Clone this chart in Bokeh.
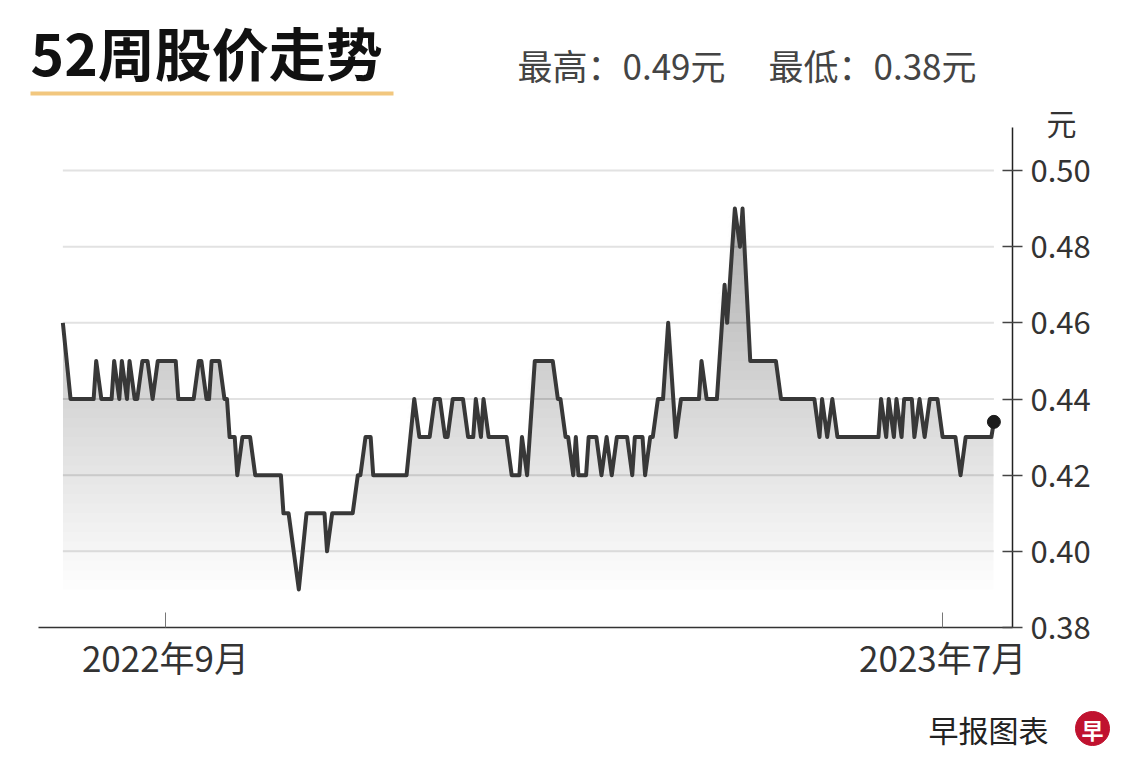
from datetime import datetime
import numpy as np
import pandas as pd
from bokeh.plotting import figure
from bokeh.layouts import column
from bokeh.models import Range1d, FixedTicker, NumeralTickFormatter, Title
from bokeh.core.properties import value
from bokeh.embed import file_html
from bokeh.resources import INLINE

# ---------------- data ----------------
dates = [
    "2022-07-23", "2022-07-26", "2022-08-04", "2022-08-05", "2022-08-07", "2022-08-11",
    "2022-08-12", "2022-08-14", "2022-08-15", "2022-08-17", "2022-08-18", "2022-08-20",
    "2022-08-21", "2022-08-23", "2022-08-25", "2022-08-27", "2022-08-29", "2022-09-05",
    "2022-09-06", "2022-09-12", "2022-09-14", "2022-09-15", "2022-09-17", "2022-09-18",
    "2022-09-19", "2022-09-22", "2022-09-24", "2022-09-25", "2022-09-26", "2022-09-28",
    "2022-09-29", "2022-10-01", "2022-10-04", "2022-10-06", "2022-10-16", "2022-10-17",
    "2022-10-19", "2022-10-23", "2022-10-26", "2022-11-02", "2022-11-03", "2022-11-05",
    "2022-11-13", "2022-11-15", "2022-11-16", "2022-11-18", "2022-11-20", "2022-11-21",
    "2022-12-04", "2022-12-07", "2022-12-09", "2022-12-13", "2022-12-15", "2022-12-17",
    "2022-12-19", "2022-12-20", "2022-12-22", "2022-12-26", "2022-12-28", "2022-12-30",
    "2022-12-31", "2023-01-02", "2023-01-03", "2023-01-05", "2023-01-12", "2023-01-14",
    "2023-01-17", "2023-01-18", "2023-01-20", "2023-01-23", "2023-01-30", "2023-02-01",
    "2023-02-02", "2023-02-04", "2023-02-05", "2023-02-07", "2023-02-08", "2023-02-09",
    "2023-02-12", "2023-02-13", "2023-02-16", "2023-02-18", "2023-02-20", "2023-02-22",
    "2023-02-24", "2023-02-28", "2023-03-02", "2023-03-03", "2023-03-06", "2023-03-07",
    "2023-03-09", "2023-03-10", "2023-03-12", "2023-03-14", "2023-03-16", "2023-03-19",
    "2023-03-21", "2023-03-28", "2023-03-29", "2023-03-31", "2023-04-04", "2023-04-07",
    "2023-04-08", "2023-04-11", "2023-04-13", "2023-04-14", "2023-04-17", "2023-04-27",
    "2023-04-29", "2023-05-12", "2023-05-14", "2023-05-15", "2023-05-17", "2023-05-19",
    "2023-05-21", "2023-06-06", "2023-06-07", "2023-06-09", "2023-06-10", "2023-06-12",
    "2023-06-13", "2023-06-15", "2023-06-16", "2023-06-19", "2023-06-20", "2023-06-22",
    "2023-06-24", "2023-06-26", "2023-06-29", "2023-07-01", "2023-07-06", "2023-07-08",
    "2023-07-10", "2023-07-20", "2023-07-21",
]
prices = [
    0.46, 0.44, 0.44, 0.45, 0.44, 0.44,
    0.45, 0.44, 0.45, 0.44, 0.45, 0.44,
    0.44, 0.45, 0.45, 0.44, 0.45, 0.45,
    0.44, 0.44, 0.45, 0.45, 0.44, 0.44,
    0.45, 0.45, 0.44, 0.44, 0.43, 0.43,
    0.42, 0.43, 0.43, 0.42, 0.42, 0.41,
    0.41, 0.39, 0.41, 0.41, 0.40, 0.41,
    0.41, 0.42, 0.42, 0.43, 0.43, 0.42,
    0.42, 0.44, 0.43, 0.43, 0.44, 0.44,
    0.43, 0.43, 0.44, 0.44, 0.43, 0.43,
    0.44, 0.43, 0.44, 0.43, 0.43, 0.42,
    0.42, 0.43, 0.42, 0.45, 0.45, 0.44,
    0.44, 0.43, 0.43, 0.42, 0.43, 0.42,
    0.42, 0.43, 0.43, 0.42, 0.43, 0.42,
    0.43, 0.43, 0.42, 0.43, 0.43, 0.42,
    0.43, 0.43, 0.44, 0.44, 0.46, 0.43,
    0.44, 0.44, 0.45, 0.44, 0.44, 0.47,
    0.46, 0.49, 0.48, 0.49, 0.45, 0.45,
    0.44, 0.44, 0.43, 0.44, 0.43, 0.44,
    0.43, 0.43, 0.44, 0.43, 0.44, 0.43,
    0.44, 0.43, 0.44, 0.44, 0.43, 0.44,
    0.43, 0.44, 0.44, 0.43, 0.43, 0.42,
    0.43, 0.43, 0.434,
]
title_text = "52周股价走势"
high_52w = 0.49
low_52w = 0.38
y_ticks = [0.38, 0.40, 0.42, 0.44, 0.46, 0.48, 0.50]
x_tick_dates = ["2022-09-01", "2023-07-01"]
x_tick_labels = ["2022年9月", "2023年7月"]
unit_text = "元"
source_text = "早报图表"
logo_text = "早"

CJK = "Noto Sans CJK SC"
W = 1140


def blank_fig(h):
    f = figure(width=W, height=h, x_range=Range1d(0, W), y_range=Range1d(h, 0),
               x_axis_location=None, y_axis_location=None,
               output_backend="svg", toolbar_location=None,
               min_border=0, min_border_left=0, min_border_right=0,
               min_border_top=0, min_border_bottom=0)
    f.frame_align = False
    f.outline_line_color = None
    f.xgrid.visible = False
    f.ygrid.visible = False
    f.background_fill_color = "white"
    f.border_fill_color = "white"
    return f


# ---------------- header ----------------
HEAD_H = 97
head = blank_fig(HEAD_H)
head.text(x=[30], y=[50], text=[title_text], text_font=value(CJK),
          text_font_size="57px", text_font_style="bold", text_baseline="middle",
          text_color="#111111")
head.segment(x0=[30], y0=[93], x1=[393], y1=[93], line_color="#F2C77E",
             line_width=4, line_cap="butt")
head.text(x=[517, 768],
          y=[64, 64],
          text=[f"最高：{high_52w:.2f}{unit_text}", f"最低：{low_52w:.2f}{unit_text}"],
          text_font=value(CJK), text_font_size="35px", text_baseline="middle",
          text_color="#444444")

# ---------------- main chart ----------------
xs = pd.to_datetime(dates)
pr = np.array(prices)

TOP = 127 - HEAD_H
p = figure(
    width=W, height=500 + TOP + 73,
    x_axis_type="datetime", y_axis_location="right",
    x_range=Range1d(datetime(2022, 7, 13, 12), datetime(2023, 7, 28, 6)),
    y_range=Range1d(0.38, 0.5113),
    output_backend="svg", toolbar_location=None,
    min_border_left=38, min_border_right=128,
    min_border_top=TOP, min_border_bottom=73,
)
p.outline_line_color = None
p.xgrid.visible = False
p.ygrid.visible = False
p.background_fill_color = "white"
p.border_fill_color = "white"

# unit label above the right axis
p.add_layout(Title(text=unit_text, align="right", offset=-64, standoff=-32,
                   vertical_align="bottom", text_font=CJK, text_font_size="30px",
                   text_font_style="normal", text_color="#333333"), "above")

n_grid = len(y_ticks) - 1
p.segment(x0=[xs[0]] * n_grid, x1=[xs[-1]] * n_grid,
          y0=y_ticks[1:], y1=y_ticks[1:], line_color="#e2e2e2", line_width=2)

# vertical gradient fill (stacked translucent layers)
for lv in np.arange(0.39, 0.50, 0.0025):
    p.varea(x=xs, y1=lv, y2=np.maximum(pr, lv), fill_color="black", fill_alpha=0.0067)

p.line(xs, pr, line_color="#383838", line_width=4, line_join="round")
p.scatter([xs[-1]], [pr[-1]], size=13, color="#1c1c1c")

ya = p.yaxis[0]
ya.ticker = FixedTicker(ticks=y_ticks)
ya.formatter = NumeralTickFormatter(format="0.00")
ya.major_label_text_font = CJK
ya.major_label_text_font_size = "31px"
ya.major_label_text_color = "#333333"
ya.axis_line_color = "#222222"
ya.axis_line_width = 1.5
ya.major_tick_in = 10
ya.major_tick_out = 10
ya.major_tick_line_color = "#444444"
ya.major_tick_line_width = 1.5
ya.minor_tick_line_color = None
ya.major_label_standoff = 8

tick_ms = [int(pd.Timestamp(d).value // 10**6) for d in x_tick_dates]
xa = p.xaxis[0]
xa.ticker = FixedTicker(ticks=tick_ms)
xa.major_label_overrides = {t: l for t, l in zip(tick_ms, x_tick_labels)}
xa.major_label_text_font = CJK
xa.major_label_text_font_size = "35px"
xa.major_label_text_color = "#333333"
xa.axis_line_color = "#333333"
xa.axis_line_width = 1.5
xa.major_tick_in = 15
xa.major_tick_out = 0
xa.major_tick_line_color = "#777777"
xa.major_tick_line_width = 1
xa.minor_tick_line_color = None
xa.major_label_standoff = 3

# ---------------- footer ----------------
foot = blank_fig(76)
foot.text(x=[1048], y=[28], text=[source_text], text_font=value(CJK),
          text_font_size="30px", text_align="right", text_baseline="middle",
          text_color="#222222")
foot.scatter(x=[1092], y=[28], size=34, color="#C0122F")
foot.text(x=[1092], y=[28], text=[logo_text], text_font=value(CJK),
          text_font_size="22px", text_font_style="bold", text_align="center",
          text_baseline="middle", text_color="white")

layout = column(head, p, foot)
open("out.html", "w").write(file_html(layout, INLINE))
